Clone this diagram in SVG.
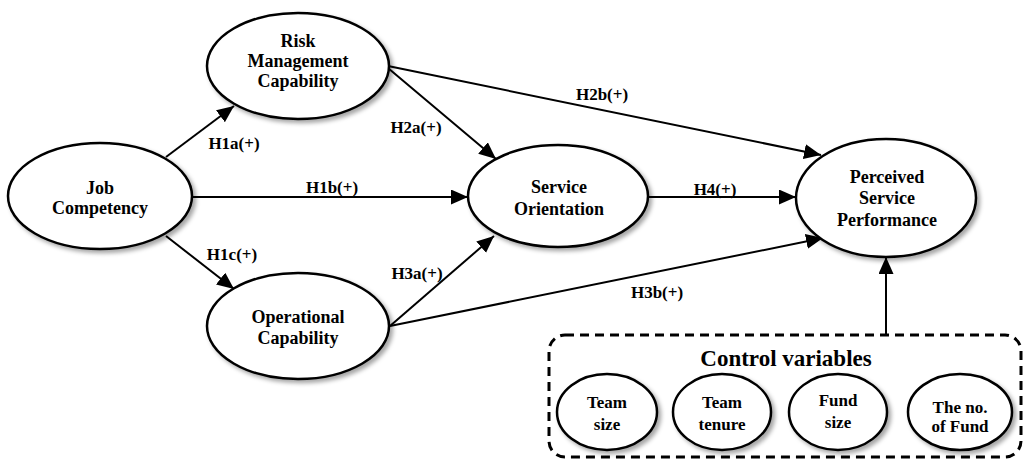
<svg xmlns="http://www.w3.org/2000/svg" width="1023" height="460" viewBox="0 0 1023 460">
<defs>
<filter id="sh" x="-20%" y="-20%" width="150%" height="150%">
<feDropShadow dx="3" dy="3" stdDeviation="2" flood-color="#000" flood-opacity="0.35"/>
</filter>
<marker id="arr" markerUnits="userSpaceOnUse" markerWidth="18" markerHeight="16" refX="17" refY="7.5" orient="auto">
<path d="M0,0 L17,7.5 L0,15 z" fill="#000"/>
</marker>
<style>
.n ellipse{fill:#fff;stroke:#000;stroke-width:2.5;filter:url(#sh)}
text{font-weight:bold;fill:#000;text-anchor:middle}
.t{font-size:18px}
.s{font-size:17px}
.l{font-size:17px}
.e line{stroke:#000;stroke-width:2;marker-end:url(#arr)}
</style>
</defs>
<g font-family="Liberation Serif, Times New Roman, DejaVu Serif, serif">
<g id="connectors" class="e">
<line x1="166" y1="157" x2="234" y2="106"/>
<line x1="193" y1="197" x2="468" y2="197"/>
<line x1="166" y1="236" x2="234" y2="289"/>
<line x1="388" y1="68" x2="496" y2="159"/>
<line x1="388" y1="66" x2="821" y2="155"/>
<line x1="390" y1="326" x2="494" y2="236"/>
<line x1="390" y1="326" x2="823" y2="238"/>
<line x1="649" y1="197" x2="796" y2="197"/>
<line x1="886" y1="335" x2="886" y2="257"/>
</g>
<g id="labels">
<text class="l" x="234" y="149">H1a(+)</text>
<text class="l" x="332" y="193">H1b(+)</text>
<text class="l" x="232" y="260">H1c(+)</text>
<text class="l" x="416" y="133">H2a(+)</text>
<text class="l" x="602" y="100">H2b(+)</text>
<text class="l" x="417" y="279">H3a(+)</text>
<text class="l" x="657" y="298">H3b(+)</text>
<text class="l" x="715" y="195">H4(+)</text>
</g>
<g id="job" class="n">
<ellipse cx="100" cy="196" rx="92" ry="53"/>
<text class="t" x="100" y="194">Job</text>
<text class="t" x="100" y="214">Competency</text>
</g>
<g id="risk" class="n">
<ellipse cx="298" cy="66" rx="91" ry="53"/>
<text class="t" x="298" y="47">Risk</text>
<text class="t" x="298" y="67">Management</text>
<text class="t" x="298" y="87">Capability</text>
</g>
<g id="operational" class="n">
<ellipse cx="298" cy="326" rx="91" ry="53"/>
<text class="t" x="298" y="323">Operational</text>
<text class="t" x="298" y="344">Capability</text>
</g>
<g id="service" class="n">
<ellipse cx="558" cy="196" rx="90" ry="51"/>
<text class="t" x="559" y="193">Service</text>
<text class="t" x="559" y="215">Orientation</text>
</g>
<g id="perceived" class="n">
<ellipse cx="886" cy="198" rx="90" ry="59"/>
<text class="t" x="887" y="183">Perceived</text>
<text class="t" x="887" y="204">Service</text>
<text class="t" x="887" y="226">Performance</text>
</g>
<g id="controls">
<rect x="549" y="335" width="472" height="122" rx="16" fill="none" stroke="#000" stroke-width="3" stroke-dasharray="9 6"/>
<text x="786" y="366" font-size="23">Control variables</text>
</g>
<g id="team-size" class="n">
<ellipse cx="607" cy="412" rx="50" ry="38"/>
<text class="s" x="607" y="408">Team</text>
<text class="s" x="607" y="430">size</text>
</g>
<g id="team-tenure" class="n">
<ellipse cx="722" cy="412" rx="49" ry="38"/>
<text class="s" x="722" y="408">Team</text>
<text class="s" x="722" y="430">tenure</text>
</g>
<g id="fund-size" class="n">
<ellipse cx="838" cy="412" rx="49" ry="38"/>
<text class="s" x="838" y="406">Fund</text>
<text class="s" x="838" y="428">size</text>
</g>
<g id="no-of-fund" class="n">
<ellipse cx="960" cy="412" rx="52" ry="38"/>
<text class="s" x="960" y="413">The no.</text>
<text class="s" x="960" y="432">of Fund</text>
</g>
</g>
</svg>
